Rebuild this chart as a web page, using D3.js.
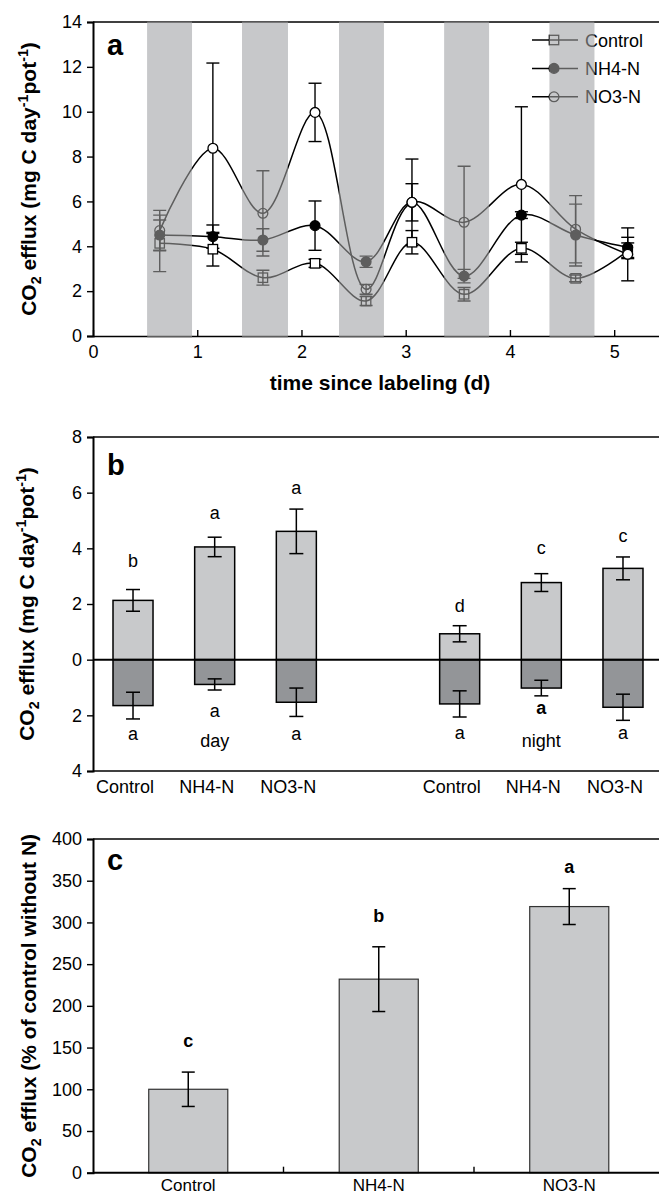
<!DOCTYPE html>
<html>
<head>
<meta charset="utf-8">
<script src="https://cdn.jsdelivr.net/npm/d3@7"></script>
<style>
  body { margin: 0; background: #fff; }
  svg text { font-family: "Liberation Sans", Arial, sans-serif; }
</style>
</head>
<body>
<svg id="fig" width="659" height="1196"></svg>
<script>
// ---- panel a: time course ----
var timePoints = [0.64, 1.15, 1.63, 2.13, 2.62, 3.06, 3.56, 4.11, 4.63, 5.13];
var nights = [[0.52, 0.95], [1.43, 1.87], [2.36, 2.79], [3.37, 3.80], [4.38, 4.81]];
var ctrlMean = [4.13, 3.87, 2.60, 3.24, 1.56, 4.18, 1.86, 3.91, 2.57, 3.80];
var ctrlErr  = [1.26, 0.75, 0.33, 0.18, 0.20, 0.52, 0.30, 0.27, 0.15, 0.35];
var nh4Mean  = [4.50, 4.43, 4.28, 4.92, 3.31, 5.96, 2.67, 5.39, 4.50, 3.95];
var nh4Err   = [0.67, 0.52, 0.50, 1.10, 0.25, 0.83, 0.30, 0.15, 1.38, 0.45];
var no3Mean  = [4.70, 8.37, 5.47, 9.97, 2.08, 5.96, 5.07, 6.76, 4.76, 3.64];
var no3Err   = [0.90, 3.80, 1.90, 1.30, 0.22, 1.93, 2.50, 3.46, 1.50, 1.18];
var seriesNames = ["Control", "NH4-N", "NO3-N"];
var xTicksA = [0, 1, 2, 3, 4, 5];
var yTicksA = [0, 2, 4, 6, 8, 10, 12, 14];

// ---- panel b: day / night partitioning ----
var bSlots = ["dC", "dN", "dO", "gap", "nC", "nN", "nO"];
var bKeys = ["dC", "dN", "dO", "nC", "nN", "nO"];
var bCats = ["Control", "NH4-N", "NO3-N", "Control", "NH4-N", "NO3-N"];
var bUp      = [2.13, 4.05, 4.61, 0.93, 2.77, 3.28];
var bUpErr   = [0.39, 0.35, 0.80, 0.29, 0.32, 0.41];
var bDown    = [1.65, 0.89, 1.53, 1.59, 1.02, 1.71];
var bDownErr = [0.48, 0.20, 0.51, 0.47, 0.28, 0.47];
var bLetUp = ["b", "a", "a", "d", "c", "c"];
var bLetUpAt = [3.33, 5.07, 5.96, 1.72, 3.79, 4.22];
var bLetDown = ["a", "a", "a", "a", "a", "a"];
var bLetDownAt = [2.87, 2.07, 2.87, 2.84, 1.95, 2.84];
var bLetDownBold = [false, false, false, false, true, false];
var bPeriods = ["day", "night"];
var bPeriodKeys = ["dN", "nN"];
var bPeriodAt = 3.12;
var yTicksB = [-4, -2, 0, 2, 4, 6, 8];

// ---- panel c: relative to control ----
var cCats = ["Control", "NH4-N", "NO3-N"];
var cVals = [100, 232, 319];
var cErr = [20.6, 38.8, 21.5];
var cLetters = ["c", "b", "a"];
var cLetterAt = [151, 301, 359];
var yTicksC = [0, 50, 100, 150, 200, 250, 300, 350, 400];

var bandCol = "#c7c8ca";
var nightInk = "#5e5e5e";
var lightBar = "#c8c9cb";
var darkBar = "#939598";
var FONT = "'Liberation Sans', Arial, sans-serif";

var svg = d3.select("#fig");

function yLabel(x, y, parts, size) {
  var t = svg.append("text")
    .attr("transform", "translate(" + x + "," + y + ") rotate(-90)")
    .attr("text-anchor", "middle")
    .attr("font-size", size)
    .attr("font-weight", "bold");
  var shift = 0;
  parts.forEach(function(p) {
    var target = p[1] == "sub" ? 5 : (p[1] == "sup" ? -8 : 0);
    var ts = t.append("tspan").text(p[0]).attr("dy", target - shift);
    if (p[1]) ts.attr("font-size", size * 0.68);
    shift = target;
  });
}

function styleAxis(g, col) {
  g.attr("font-size", 18).attr("font-family", FONT).attr("color", col);
  g.select(".domain").attr("stroke-width", 1.6);
  g.selectAll(".tick line").attr("stroke-width", 1.4);
}

// =============== panel a ===============
var xA = d3.scaleLinear().domain([0, 5.43]).range([93, 659]);
var yA = d3.scaleLinear().domain([0, 14]).range([336, 22]);

svg.append("g").selectAll("rect").data(nights).enter().append("rect")
  .attr("x", function(d) { return xA(d[0]); })
  .attr("width", function(d) { return xA(d[1]) - xA(d[0]); })
  .attr("y", yA(14)).attr("height", yA(0) - yA(14))
  .attr("fill", bandCol);

var clip = svg.append("defs").append("clipPath").attr("id", "nightClip");
clip.selectAll("rect").data(nights).enter().append("rect")
  .attr("x", function(d) { return xA(d[0]); })
  .attr("width", function(d) { return xA(d[1]) - xA(d[0]); })
  .attr("y", 14).attr("height", 328);

var seriesA = [
  { name: seriesNames[0], mean: ctrlMean, err: ctrlErr, shape: "square", solid: false },
  { name: seriesNames[1], mean: nh4Mean, err: nh4Err, shape: "circle", solid: true },
  { name: seriesNames[2], mean: no3Mean, err: no3Err, shape: "circle", solid: false }
];

function marker(g, shape, cx, cy, col, fill) {
  if (shape == "square") {
    g.append("rect").attr("x", cx - 4.7).attr("y", cy - 4.7)
      .attr("width", 9.4).attr("height", 9.4)
      .attr("fill", fill).attr("stroke", col).attr("stroke-width", 1.3);
  } else {
    g.append("circle").attr("cx", cx).attr("cy", cy).attr("r", 4.9)
      .attr("fill", fill).attr("stroke", col).attr("stroke-width", 1.3);
  }
}

function drawA(g, col, isNight) {
  g.append("line").attr("x1", 93).attr("x2", 659)
    .attr("y1", yA(14)).attr("y2", yA(14))
    .attr("stroke", col).attr("stroke-width", 1.6);

  var ax = g.append("g").attr("transform", "translate(0," + yA(0) + ")")
    .call(d3.axisBottom(xA).tickValues(xTicksA).tickFormat(d3.format("d"))
      .tickSizeInner(-6).tickSizeOuter(0).tickPadding(9));
  styleAxis(ax, col);
  var ay = g.append("g").attr("transform", "translate(93,0)")
    .call(d3.axisLeft(yA).tickValues(yTicksA).tickSize(6).tickPadding(5));
  styleAxis(ay, col);
  ay.select(".domain").attr("stroke-width", 2);

  var line = d3.line()
    .x(function(d, i) { return xA(timePoints[i]); })
    .y(function(d) { return yA(d); })
    .curve(d3.curveCatmullRom.alpha(0.5));

  seriesA.forEach(function(s) {
    g.append("path").attr("d", line(s.mean))
      .attr("fill", "none").attr("stroke", col).attr("stroke-width", 1.5);
  });

  seriesA.forEach(function(s) {
    s.mean.forEach(function(m, i) {
      var cx = xA(timePoints[i]);
      var hi = yA(m + s.err[i]), lo = yA(m - s.err[i]);
      g.append("line").attr("x1", cx).attr("x2", cx).attr("y1", hi).attr("y2", lo)
        .attr("stroke", col).attr("stroke-width", 1.4);
      [hi, lo].forEach(function(yy) {
        g.append("line").attr("x1", cx - 6.5).attr("x2", cx + 6.5).attr("y1", yy).attr("y2", yy)
          .attr("stroke", col).attr("stroke-width", 1.4);
      });
    });
  });

  seriesA.forEach(function(s) {
    var fill = s.solid ? col : (isNight ? "none" : "#fff");
    s.mean.forEach(function(m, i) {
      marker(g, s.shape, xA(timePoints[i]), yA(m), col, fill);
    });
  });

  // legend
  seriesA.forEach(function(s, i) {
    var ly = 40 + i * 28.4;
    g.append("line").attr("x1", 532).attr("x2", 578).attr("y1", ly).attr("y2", ly)
      .attr("stroke", col).attr("stroke-width", 1.5);
    marker(g, s.shape, 554, ly, col, s.solid ? col : (isNight ? "none" : "#fff"));
    g.append("text").attr("x", 585).attr("y", ly + 6.5)
      .attr("font-size", 18).attr("fill", col).text(s.name);
  });
}

drawA(svg.append("g"), "#000", false);
var nightLayer = svg.append("g").attr("clip-path", "url(#nightClip)");
nightLayer.selectAll("rect").data(nights).enter().append("rect")
  .attr("x", function(d) { return xA(d[0]); })
  .attr("width", function(d) { return xA(d[1]) - xA(d[0]); })
  .attr("y", yA(14)).attr("height", yA(0) - yA(14))
  .attr("fill", bandCol);
drawA(nightLayer.append("g"), nightInk, true);

svg.append("text").attr("x", 107).attr("y", 55).attr("font-size", 29)
  .attr("font-weight", "bold").text("a");
svg.append("text").attr("x", 380).attr("y", 390).attr("text-anchor", "middle")
  .attr("font-size", 21).attr("font-weight", "bold").text("time since labeling (d)");
yLabel(36, yA(7), [["CO", ""], ["2", "sub"], [" efflux (mg C day", ""], ["-1", "sup"], ["pot", ""], ["-1", "sup"], [")", ""]], 21);

// =============== panel b ===============
var xB = d3.scaleBand().domain(bSlots).range([93, 663]).paddingInner(0.51).paddingOuter(0.245);
var yB = d3.scaleLinear().domain([-4, 8]).range([771, 437]);
var gB = svg.append("g");

[8, -4].forEach(function(v) {
  gB.append("line").attr("x1", 93).attr("x2", 659).attr("y1", yB(v)).attr("y2", yB(v))
    .attr("stroke", "#000").attr("stroke-width", 1.6);
});

bKeys.forEach(function(k, i) {
  var x0 = xB(k), w = xB.bandwidth(), cx = x0 + w / 2;
  gB.append("rect").attr("x", x0).attr("width", w)
    .attr("y", yB(bUp[i])).attr("height", yB(0) - yB(bUp[i]))
    .attr("fill", lightBar).attr("stroke", "#000").attr("stroke-width", 1.5);
  gB.append("rect").attr("x", x0).attr("width", w)
    .attr("y", yB(0)).attr("height", yB(-bDown[i]) - yB(0))
    .attr("fill", darkBar).attr("stroke", "#000").attr("stroke-width", 1.5);

  [[bUp[i] + bUpErr[i], bUp[i] - bUpErr[i]], [-bDown[i] + bDownErr[i], -bDown[i] - bDownErr[i]]].forEach(function(e) {
    gB.append("line").attr("x1", cx).attr("x2", cx).attr("y1", yB(e[0])).attr("y2", yB(e[1]))
      .attr("stroke", "#000").attr("stroke-width", 1.5);
    e.forEach(function(v) {
      gB.append("line").attr("x1", cx - 7).attr("x2", cx + 7).attr("y1", yB(v)).attr("y2", yB(v))
        .attr("stroke", "#000").attr("stroke-width", 1.5);
    });
  });

  gB.append("text").attr("x", cx).attr("y", yB(bLetUpAt[i])).attr("text-anchor", "middle")
    .attr("font-size", 18).text(bLetUp[i]);
  gB.append("text").attr("x", cx).attr("y", yB(-bLetDownAt[i])).attr("text-anchor", "middle")
    .attr("font-size", 18).attr("font-weight", bLetDownBold[i] ? "bold" : "normal").text(bLetDown[i]);
  gB.append("text").attr("x", cx - 8).attr("y", 793).attr("text-anchor", "middle")
    .attr("font-size", 18).text(bCats[i]);
});

bPeriods.forEach(function(p, i) {
  gB.append("text").attr("x", xB(bPeriodKeys[i]) + xB.bandwidth() / 2).attr("y", yB(-bPeriodAt))
    .attr("text-anchor", "middle").attr("font-size", 18).text(p);
});

gB.append("line").attr("x1", 93).attr("x2", 659).attr("y1", yB(0)).attr("y2", yB(0))
  .attr("stroke", "#000").attr("stroke-width", 2);

var ayB = gB.append("g").attr("transform", "translate(93,0)")
  .call(d3.axisLeft(yB).tickValues(yTicksB).tickSize(6).tickPadding(5)
    .tickFormat(function(d) { return Math.abs(d); }));
styleAxis(ayB, "#000");
ayB.select(".domain").attr("stroke-width", 2);

svg.append("text").attr("x", 107).attr("y", 475).attr("font-size", 29)
  .attr("font-weight", "bold").text("b");
yLabel(34, yB(2), [["CO", ""], ["2", "sub"], [" efflux (mg C day", ""], ["-1", "sup"], ["pot", ""], ["-1", "sup"], [")", ""]], 21);

// =============== panel c ===============
var xC = d3.scaleBand().domain(cCats).range([93, 664.5]);
var yC = d3.scaleLinear().domain([0, 400]).range([1172.7, 839]);
var gC = svg.append("g");
var barFrac = 0.415;

gC.append("line").attr("x1", 93).attr("x2", 659).attr("y1", yC(400)).attr("y2", yC(400))
  .attr("stroke", "#000").attr("stroke-width", 1.6);

cCats.forEach(function(c, i) {
  var w = xC.bandwidth() * barFrac;
  var cx = xC(c) + xC.bandwidth() / 2;
  gC.append("rect").attr("x", cx - w / 2).attr("width", w)
    .attr("y", yC(cVals[i])).attr("height", yC(0) - yC(cVals[i]))
    .attr("fill", lightBar).attr("stroke", "#333").attr("stroke-width", 1.2);
  var hi = yC(cVals[i] + cErr[i]), lo = yC(cVals[i] - cErr[i]);
  gC.append("line").attr("x1", cx).attr("x2", cx).attr("y1", hi).attr("y2", lo)
    .attr("stroke", "#000").attr("stroke-width", 1.5);
  [hi, lo].forEach(function(yy) {
    gC.append("line").attr("x1", cx - 6.5).attr("x2", cx + 6.5).attr("y1", yy).attr("y2", yy)
      .attr("stroke", "#000").attr("stroke-width", 1.5);
  });
  gC.append("text").attr("x", cx).attr("y", yC(cLetterAt[i])).attr("text-anchor", "middle")
    .attr("font-size", 18).attr("font-weight", "bold").text(cLetters[i]);
  gC.append("text").attr("x", cx).attr("y", 1191).attr("text-anchor", "middle")
    .attr("font-size", 17).text(c);
});

// category boundary ticks
cCats.slice(1).forEach(function(c) {
  gC.append("line").attr("x1", xC(c)).attr("x2", xC(c)).attr("y1", yC(0)).attr("y2", yC(0) - 6)
    .attr("stroke", "#000").attr("stroke-width", 1.4);
});
gC.append("line").attr("x1", 93).attr("x2", 659).attr("y1", yC(0)).attr("y2", yC(0))
  .attr("stroke", "#000").attr("stroke-width", 2);

var ayC = gC.append("g").attr("transform", "translate(93,0)")
  .call(d3.axisLeft(yC).tickValues(yTicksC).tickSize(6).tickPadding(5));
styleAxis(ayC, "#000");
ayC.select(".domain").attr("stroke-width", 2);

svg.append("text").attr("x", 107).attr("y", 870).attr("font-size", 29)
  .attr("font-weight", "bold").text("c");
yLabel(36, yC(200), [["CO", ""], ["2", "sub"], [" efflux (% of control without N)", ""]], 21);
</script>
</body>
</html>
